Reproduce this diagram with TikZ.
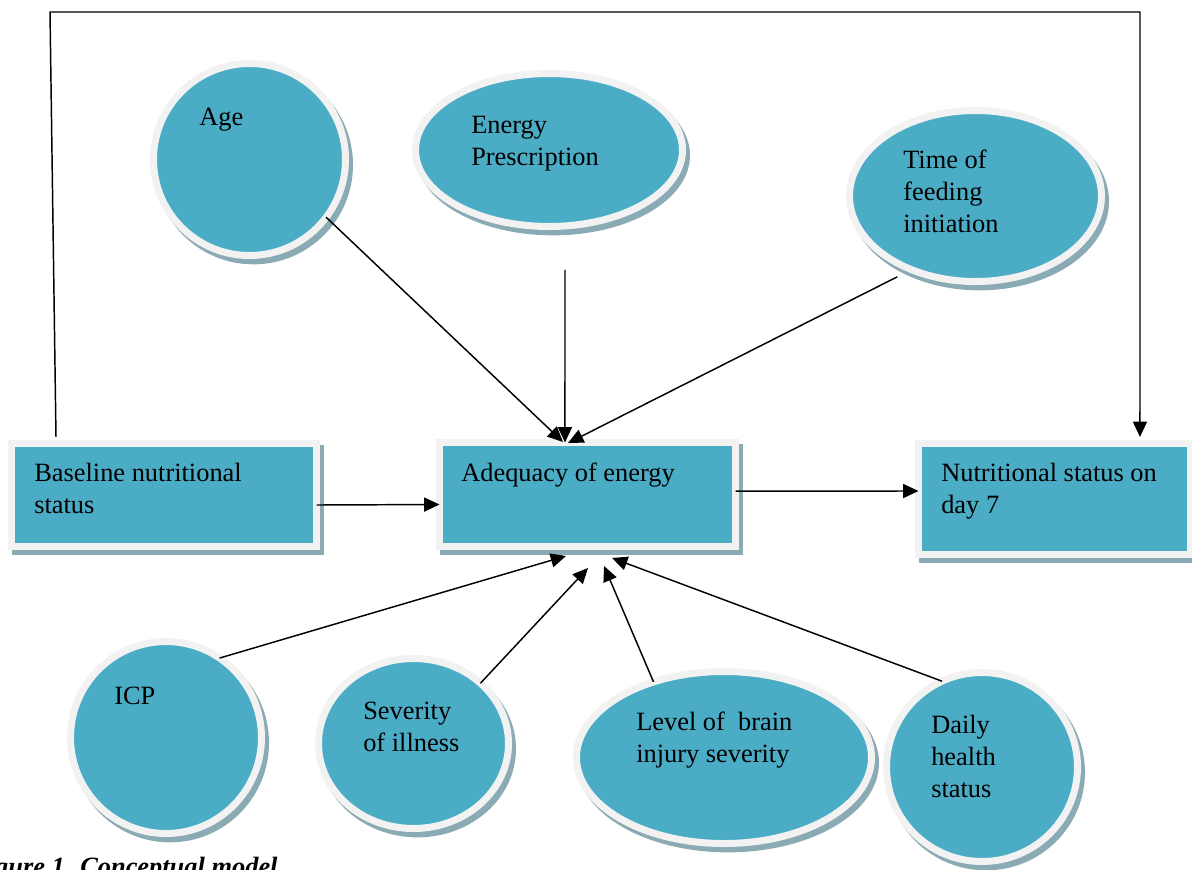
\documentclass[tikz,border=0pt]{standalone}
\usepackage{fontspec}
\setmainfont{Liberation Serif}
\usetikzlibrary{shapes.geometric,arrows.meta}
\definecolor{tealfill}{HTML}{4BACC6}
\definecolor{ringc}{HTML}{F2F2F2}
\definecolor{shadc}{HTML}{8AAAB4}
\tikzset{
  shp/.style={fill=tealfill, draw=ringc, line width=5.25pt, inner sep=0pt, outer sep=0pt,
    preaction={draw=shadc, fill=shadc, transform canvas={xshift=3pt,yshift=-4pt}}},
  oval/.style={shp, ellipse},
  boxnode/.style={shp, rectangle},
  lbl/.style={anchor=base west, inner sep=0pt, font=\fontsize{19.8pt}{24pt}\selectfont},
  arr/.style={line width=1.1pt, -{Triangle[length=11.5pt,width=10.5pt]}},
}
\newcommand{\lines}[1]{\parbox[t]{8cm}{\raggedright #1}}
\begin{document}
\begin{tikzpicture}[x=0.75pt,y=-0.75pt]
\useasboundingbox (0,0) rectangle (1192,869);
\clip (0,0) rectangle (1192,869);
\fill[white] (0,0) rectangle (1192,869);

% ovals
\node[oval, minimum width=144pt, minimum height=144pt] (age) at (249.5,159.5) {};
\node[oval, minimum width=200.25pt, minimum height=114.75pt] (energy) at (549,150) {};
\node[oval, minimum width=189pt, minimum height=128.25pt] (time) at (975.5,196) {};
\node[oval, minimum width=143.25pt, minimum height=144pt] (icp) at (166,737.5) {};
\node[oval, minimum width=142.5pt, minimum height=127.5pt] (sev) at (413.5,743.5) {};
\node[oval, minimum width=221.25pt, minimum height=129pt] (lev) at (724,757.5) {};
\node[oval, minimum width=143.25pt, minimum height=141.75pt] (daily) at (982,767) {};

% boxes
\node[boxnode, minimum width=228.75pt, minimum height=77.25pt] (base) at (164,495) {};
\node[boxnode, minimum width=222pt, minimum height=78pt] (adq) at (587.5,494.5) {};
\node[boxnode, minimum width=204pt, minimum height=83.25pt] (nut) at (1054.5,499) {};

% labels
\node[lbl] (tage) at (199,125) {Age};
\node[lbl] (tenergy) at (471,133) {\lines{Energy\\Prescription}};
\node[lbl] (ttime) at (903,168) {\lines{Time of\\feeding\\initiation}};
\node[lbl] (tbase) at (34,481) {\lines{Baseline nutritional\\status}};
\node[lbl] (tadq) at (461,481) {Adequacy of energy};
\node[lbl] (tnut) at (941,481) {\lines{Nutritional status on\\day 7}};
\node[lbl] (ticp) at (114,704) {ICP};
\node[lbl] (tsev) at (363,719) {\lines{Severity\\of illness}};
\node[lbl] (tlev) at (636,730) {\lines{Level of~ brain\\injury severity}};
\node[lbl] (tdaily) at (931,733) {\lines{Daily\\health\\status}};

% connectors
\coordinate (loopA) at (50,12);
\coordinate (loopB) at (1140,12);
\draw[arr] ([xshift=-81pt,yshift=4.9pt]base.north) -- (loopA) -- (loopB) -- ([xshift=64.1pt,yshift=4.9pt]nut.north);

\draw[arr] (age.-37) -- ([xshift=-18.4pt,yshift=0.4pt]adq.north);
\draw[arr, shorten <=32.6pt] ([xshift=12pt]energy.south) -- ([xshift=-16.9pt]adq.north);
\draw[arr, shorten <=12pt] (time.-131) -- ([xshift=-14.6pt,yshift=-0.4pt]adq.north);

\draw[arr] ([yshift=-7.5pt]base.east) -- ([yshift=-7.5pt]adq.west);
\draw[arr] ([yshift=2.6pt]adq.east) -- ([yshift=6pt]nut.west);

\draw[arr] (icp.56) -- ([xshift=-16.1pt,yshift=-7.1pt]adq.south);
\draw[arr] (sev.42) -- ([xshift=0.4pt,yshift=-16.1pt]adq.south);
\draw[arr] (lev.133) -- ([xshift=12.4pt,yshift=-14.6pt]adq.south);
\draw[arr] (daily.115) -- ([xshift=18.4pt,yshift=-8.6pt]adq.south);

% caption (cut off by the page edges, as in the source)
\node[anchor=base west, inner sep=0pt, font=\fontsize{19.8pt}{24pt}\selectfont\bfseries\itshape] (cap) at (-30,875) {Figure 1. Conceptual model};
\end{tikzpicture}
\end{document}
